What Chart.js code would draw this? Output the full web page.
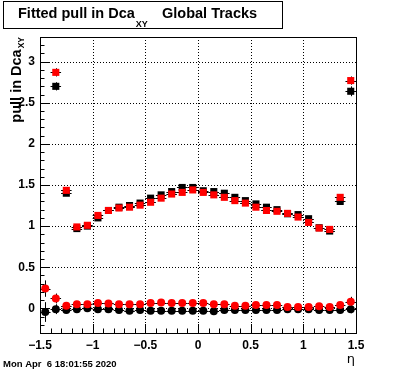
<!DOCTYPE html>
<html>
<head>
<meta charset="utf-8">
<script src="https://cdn.jsdelivr.net/npm/chart.js@4"></script>
<style>
  html, body { margin: 0; padding: 0; background: #fff; }
  #wrap { width: 396px; height: 372px; position: relative; }
</style>
</head>
<body>
<div id="wrap"><canvas id="myChart"></canvas></div>
<script>
const etaBins = [-1.45, -1.35, -1.25, -1.15, -1.05, -0.95, -0.85, -0.75, -0.65, -0.55,
  -0.45, -0.35, -0.25, -0.15, -0.05, 0.05, 0.15, 0.25, 0.35, 0.45,
  0.55, 0.65, 0.75, 0.85, 0.95, 1.05, 1.15, 1.25, 1.35, 1.45];
const binHalfWidth = 0.05;

// sigma of pull (squares)
const sigmaBlack = [null, 2.70, 1.40, 0.97, 1.00, 1.10, 1.19, 1.23, 1.25, 1.28,
  1.34, 1.38, 1.42, 1.47, 1.47, 1.43, 1.42, 1.40, 1.35, 1.31,
  1.27, 1.23, 1.20, 1.15, 1.14, 1.09, 0.98, 0.94, 1.30, 2.64];
const sigmaBlackErr = [null, 0.05, 0.03, 0.015, 0.012, 0.012, 0.012, 0.012, 0.012, 0.012,
  0.012, 0.012, 0.012, 0.012, 0.012, 0.012, 0.012, 0.012, 0.012, 0.012,
  0.012, 0.012, 0.012, 0.012, 0.012, 0.012, 0.015, 0.02, 0.03, 0.06];
const sigmaRed = [null, 2.87, 1.435, 0.99, 1.01, 1.13, 1.19, 1.22, 1.23, 1.255,
  1.29, 1.34, 1.39, 1.41, 1.44, 1.41, 1.38, 1.35, 1.31, 1.28,
  1.23, 1.19, 1.18, 1.155, 1.11, 1.045, 0.976, 0.96, 1.35, 2.77];
const sigmaRedErr = [null, 0.05, 0.03, 0.015, 0.012, 0.012, 0.012, 0.012, 0.012, 0.012,
  0.012, 0.012, 0.012, 0.012, 0.012, 0.012, 0.012, 0.012, 0.012, 0.012,
  0.012, 0.012, 0.012, 0.012, 0.012, 0.012, 0.015, 0.02, 0.03, 0.05];

// mean of pull (circles)
const meanBlack = [-0.045, -0.01, -0.02, -0.01, 0.0, -0.01, -0.01, -0.02, -0.03, -0.02,
  -0.03, -0.03, -0.03, -0.03, -0.03, -0.03, -0.035, -0.02, -0.02, -0.02,
  -0.02, -0.02, -0.02, -0.01, -0.01, -0.01, -0.02, -0.02, -0.02, -0.01];
const meanBlackErr = [0.12, 0.06, 0.03, 0.02, 0.015, 0.015, 0.015, 0.015, 0.015, 0.015,
  0.015, 0.015, 0.015, 0.015, 0.015, 0.015, 0.015, 0.015, 0.015, 0.015,
  0.015, 0.015, 0.015, 0.015, 0.015, 0.015, 0.015, 0.02, 0.03, 0.05];
const meanRed = [0.24, 0.12, 0.03, 0.05, 0.05, 0.065, 0.06, 0.05, 0.05, 0.05,
  0.065, 0.07, 0.065, 0.065, 0.065, 0.065, 0.05, 0.05, 0.03, 0.03,
  0.04, 0.04, 0.04, 0.015, 0.015, 0.015, 0.025, 0.015, 0.04, 0.08];
const meanRedErr = [0.1, 0.06, 0.03, 0.02, 0.015, 0.015, 0.015, 0.015, 0.015, 0.015,
  0.015, 0.015, 0.015, 0.015, 0.015, 0.015, 0.015, 0.015, 0.015, 0.015,
  0.015, 0.015, 0.015, 0.015, 0.015, 0.015, 0.015, 0.02, 0.03, 0.06];

const majorStep = 0.5;
const minorStep = 0.1;

function points(vals, errs) {
  return etaBins.map((x, i) => ({ x: x, y: vals[i], err: errs[i] }));
}

function fmt(v) {
  const r = Math.round(v * 10) / 10;
  return r < 0 ? "\u2212" + Math.abs(r) : String(r);
}

// error bars drawn before each dataset so markers sit on top
const errorBars = {
  id: "errorBars",
  beforeDatasetDraw(chart, args) {
    const ds = chart.data.datasets[args.index];
    const xs = chart.scales.x, ys = chart.scales.y;
    const ctx = chart.ctx;
    ctx.save();
    ctx.strokeStyle = "#000";
    ctx.lineWidth = 1;
    ds.data.forEach((p) => {
      if (p.y === null) return;
      const px = Math.round(xs.getPixelForValue(p.x)) + 0.5;
      const py = Math.round(ys.getPixelForValue(p.y)) + 0.5;
      const x0 = xs.getPixelForValue(p.x - binHalfWidth);
      const x1 = xs.getPixelForValue(p.x + binHalfWidth);
      const y0 = ys.getPixelForValue(p.y - p.err);
      const y1 = ys.getPixelForValue(p.y + p.err);
      ctx.beginPath();
      ctx.moveTo(x0, py); ctx.lineTo(x1, py);
      ctx.moveTo(px, y0); ctx.lineTo(px, y1);
      ctx.stroke();
    });
    ctx.restore();
  },
};

// ROOT style frame: dotted grid, inner ticks, solid frame, texts
const rootFrame = {
  id: "rootFrame",
  beforeDraw(chart) {
    // y title goes under the tick labels
    const { ctx, chartArea: a } = chart;
    ctx.save();
    ctx.fillStyle = "#000";
    ctx.translate(20.5, a.top);
    ctx.rotate(-Math.PI / 2);
    ctx.textAlign = "left";
    ctx.textBaseline = "alphabetic";
    ctx.font = "bold 8.5px 'Liberation Sans', Arial, sans-serif";
    const sub = "XY";
    const ws = ctx.measureText(sub).width;
    ctx.font = "bold 14.5px 'Liberation Sans', Arial, sans-serif";
    const yt = "pull in Dca";
    const wy = ctx.measureText(yt).width;
    ctx.fillText(yt, -(wy + ws + 1), 0);
    ctx.font = "bold 8.5px 'Liberation Sans', Arial, sans-serif";
    ctx.fillText(sub, -ws, 3.5);
    ctx.restore();
  },
  beforeDatasetsDraw(chart) {
    const { ctx, chartArea: a, scales } = chart;
    ctx.save();
    ctx.strokeStyle = "#000";
    ctx.lineWidth = 1;
    ctx.setLineDash([1, 2]);
    ctx.beginPath();
    scales.x.ticks.forEach((t) => {
      const px = Math.round(scales.x.getPixelForValue(t.value)) + 0.5;
      ctx.moveTo(px, a.top); ctx.lineTo(px, a.bottom);
    });
    scales.y.ticks.forEach((t) => {
      const py = Math.round(scales.y.getPixelForValue(t.value)) + 0.5;
      ctx.moveTo(a.left, py); ctx.lineTo(a.right, py);
    });
    ctx.stroke();
    ctx.restore();
  },
  afterDraw(chart) {
    const { ctx, chartArea: a, scales } = chart;
    const xs = scales.x, ys = scales.y;
    ctx.save();
    ctx.strokeStyle = "#000";
    ctx.lineWidth = 1;
    ctx.beginPath();
    for (let k = Math.ceil(ys.min / minorStep - 1e-6); k <= Math.floor(ys.max / minorStep + 1e-6); k++) {
      const py = Math.round(ys.getPixelForValue(k * minorStep)) + 0.5;
      const len = k % 5 === 0 ? 9 : 4.5;
      ctx.moveTo(a.left, py); ctx.lineTo(a.left + len, py);
    }
    for (let k = Math.ceil(xs.min / minorStep - 1e-6); k <= Math.floor(xs.max / minorStep + 1e-6); k++) {
      const px = Math.round(xs.getPixelForValue(k * minorStep)) + 0.5;
      const len = k % 5 === 0 ? 9 : 4.5;
      ctx.moveTo(px, a.bottom); ctx.lineTo(px, a.bottom - len);
    }
    ctx.stroke();
    ctx.strokeRect(Math.round(a.left) + 0.5, Math.round(a.top) + 0.5,
      Math.round(a.right - a.left), Math.round(a.bottom - a.top));

    // title box
    ctx.fillStyle = "#fff";
    ctx.fillRect(3, 1, 279, 27);
    ctx.strokeRect(3.5, 1.5, 279, 27);
    ctx.fillStyle = "#000";
    ctx.textBaseline = "alphabetic";
    ctx.textAlign = "left";
    ctx.font = "bold 14.5px 'Liberation Sans', Arial, sans-serif";
    const t1 = "Fitted pull in Dca";
    ctx.fillText(t1, 18, 18);
    let w = ctx.measureText(t1).width;
    ctx.font = "bold 9px 'Liberation Sans', Arial, sans-serif";
    ctx.fillText("XY", 18 + w + 1, 27);
    ctx.font = "bold 14.5px 'Liberation Sans', Arial, sans-serif";
    ctx.fillText("Global Tracks", 162, 18);

    // x title
    ctx.font = "13px 'DejaVu Sans', sans-serif";
    ctx.textAlign = "right";
    ctx.fillText("\u03b7", 355, 363);

    // date stamp
    ctx.font = "bold 9.5px 'Liberation Sans', Arial, sans-serif";
    ctx.textAlign = "left";
    ctx.fillText("Mon Apr  6 18:01:55 2020", 3, 367);
    ctx.restore();
  },
};

const tickFont = { family: "'Liberation Sans', Arial, sans-serif", size: 12, weight: "bold" };

const config = {
  type: "scatter",
  data: {
    datasets: [
      {
        label: "sigma black",
        data: points(sigmaBlack, sigmaBlackErr),
        pointStyle: "rect",
        pointRadius: 5,
        backgroundColor: "#000",
        borderWidth: 0,
        order: 2,
      },
      {
        label: "mean black",
        data: points(meanBlack, meanBlackErr),
        pointStyle: "circle",
        pointRadius: 4,
        backgroundColor: "#000",
        borderWidth: 0,
        order: 2,
      },
      {
        label: "sigma red",
        data: points(sigmaRed, sigmaRedErr),
        pointStyle: "rect",
        pointRadius: 5,
        backgroundColor: "#ff0000",
        borderWidth: 0,
        order: 1,
      },
      {
        label: "mean red",
        data: points(meanRed, meanRedErr),
        pointStyle: "circle",
        pointRadius: 4,
        backgroundColor: "#ff0000",
        borderWidth: 0,
        order: 1,
      },
    ],
  },
  options: {
    responsive: true,
    maintainAspectRatio: false,
    animation: false,
    layout: { padding: { left: 0, top: 37, right: 40, bottom: 0 } },
    plugins: {
      legend: { display: false },
      tooltip: { enabled: false },
      title: { display: false },
    },
    scales: {
      x: {
        type: "linear",
        min: -1.5,
        max: 1.5,
        grid: { display: false, drawTicks: false },
        border: { display: false },
        afterFit: (scale) => { scale.height = 39; },
        ticks: {
          stepSize: majorStep,
          includeBounds: true,
          color: "#000",
          padding: 5,
          maxRotation: 0,
          autoSkip: false,
          font: tickFont,
          callback: (v) => fmt(v),
        },
      },
      y: {
        type: "linear",
        min: -0.3,
        max: 3.3,
        grid: { display: false, drawTicks: false },
        border: { display: false },
        afterFit: (scale) => { scale.width = 40; },
        ticks: {
          stepSize: majorStep,
          includeBounds: false,
          color: "#000",
          padding: 5,
          autoSkip: false,
          font: tickFont,
          callback: (v) => fmt(v),
        },
      },
    },
  },
  plugins: [errorBars, rootFrame],
};

const myChart = new Chart(document.getElementById("myChart"), config);
</script>
</body>
</html>
